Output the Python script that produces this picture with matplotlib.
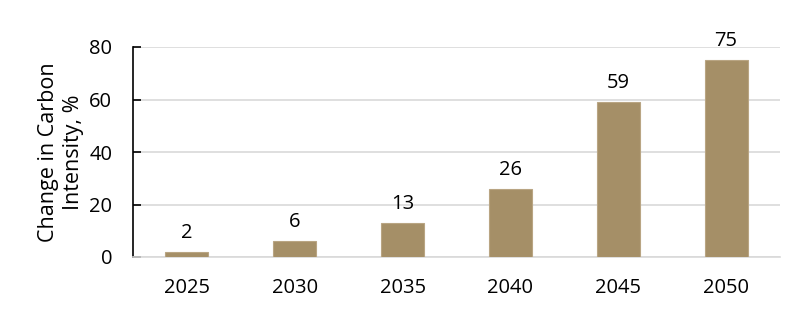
import matplotlib
matplotlib.use("Agg")
import matplotlib.pyplot as plt

years = ["2025", "2030", "2035", "2040", "2045", "2050"]
values = [2, 6, 13, 26, 59, 75]
labels = ["2", "6", "13", "26", "59", "75"]

plt.rcParams['font.family'] = ['Open Sans', 'DejaVu Sans']

fig = plt.figure(figsize=(8, 3.14), dpi=100)
ax = fig.add_axes([133/800, 1-257/314, (780-133)/800, (257-47)/314])

x = range(len(years))
ax.bar(x, values, width=0.4, color="#A58F67", edgecolor="#B9A583", linewidth=0.8, zorder=3)
for xi, v, l in zip(x, values, labels):
    ax.text(xi, v + 3.5, l, ha="center", va="bottom", fontsize=14.5, color="black")

ax.set_xlim(-0.5, len(years) - 0.5)
ax.set_ylim(0, 80)
ax.set_yticks([0, 20, 40, 60, 80])
ax.set_xticks(list(x))
ax.set_xticklabels(years)
ax.tick_params(axis="y", labelsize=14.5, length=6, width=1.2, direction="in", pad=15)
ax.tick_params(axis="x", labelsize=14.5, length=0, pad=15)
ax.yaxis.grid(True, color="#d9d9d9", linewidth=1.2, zorder=0)
ax.set_axisbelow(True)
for s in ["top", "right"]:
    ax.spines[s].set_visible(False)
ax.spines["bottom"].set_color("#d9d9d9")
ax.spines["bottom"].set_linewidth(1.2)
ax.spines["left"].set_color("black")
ax.spines["left"].set_linewidth(1.2)
ax.set_ylabel("Change in Carbon\nIntensity, %", fontsize=15.5, linespacing=1.25, labelpad=4)

fig.savefig("out.png", dpi=100)
